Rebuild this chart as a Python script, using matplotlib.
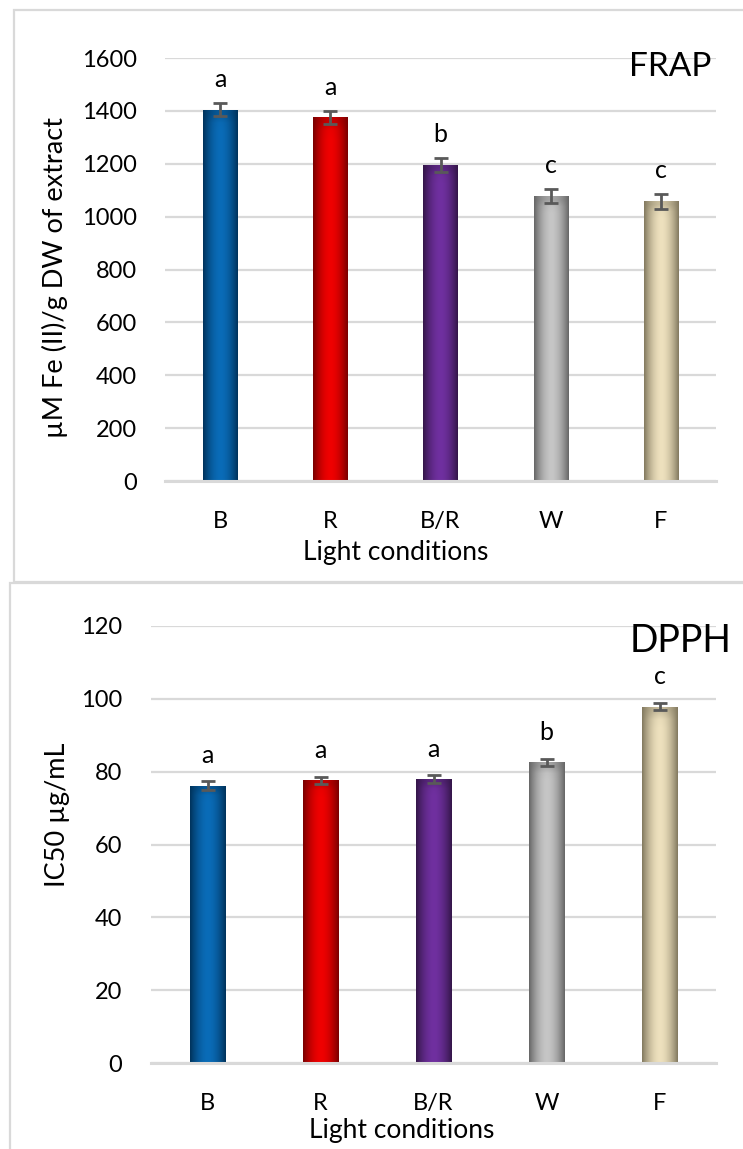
import numpy as np
import matplotlib
matplotlib.use("Agg")
import matplotlib.pyplot as plt
from matplotlib.colors import to_rgb
from matplotlib.patches import Rectangle
from matplotlib.transforms import blended_transform_factory

plt.rcParams['font.family'] = ['Lato', 'DejaVu Sans']

# data
conditions = ['B', 'R', 'B/R', 'W', 'F']
frap_vals = [1405, 1375, 1196, 1077, 1058]
frap_err = [25, 26, 26, 27, 28]
frap_letters = ['a', 'a', 'b', 'c', 'c']
dpph_vals = [76.2, 77.6, 78.0, 82.6, 97.8]
dpph_err = [1.1, 1.0, 1.0, 1.0, 1.0]
dpph_letters = ['a', 'a', 'a', 'b', 'c']

# bar shading: centre colour, edge colour
centre_cols = ['#0a6cb8', '#f00000', '#7030a0', '#c6c6c6', '#eee1be']
edge_cols = ['#00335c', '#7a0000', '#341649', '#676767', '#837a60']

GRID = '#d9d9d9'
ERR = '#595959'
W, H = 743, 1149


def shade_bars(ax, bars):
    for patch, c1, c2 in zip(bars, centre_cols, edge_cols):
        c1 = np.array(to_rgb(c1))
        c2 = np.array(to_rgb(c2))
        x0, w, h = patch.get_x(), patch.get_width(), patch.get_height()
        t = np.abs(np.linspace(-1, 1, 64)) ** 1.8
        row = c1[None, :] * (1 - t[:, None]) + c2[None, :] * t[:, None]
        img = np.repeat(row[None, :, :], 40, axis=0)
        # a bit darker at the very bottom
        v = np.linspace(1, 0, 40)
        dark = np.clip((v - 0.97) / 0.03, 0, 1)[:, None, None] * 0.35
        img = img * (1 - dark) + c2[None, None, :] * dark
        im = ax.imshow(img, extent=[x0, x0 + w, 0, h], aspect='auto',
                       origin='upper', zorder=2, interpolation='bilinear')
        im.set_clip_path(patch)
        patch.set_facecolor('none')
        patch.set_edgecolor('none')


def panel(rect, vals, errs, letters, ymax, step, ylabel, title,
          ylab_xy, title_xy, tick_base, xlab_xy, pad_y, gap):
    ax = fig.add_axes(rect)
    x = np.arange(len(conditions))
    bars = ax.bar(x, vals, width=0.31, zorder=2)
    shade_bars(ax, bars)
    ax.errorbar(x, vals, yerr=errs, fmt='none', ecolor=ERR, elinewidth=2,
                capsize=5, capthick=2, zorder=3)
    for xi, v, e, l in zip(x, vals, errs, letters):
        ax.annotate(l, (xi, v + e), xytext=(0, gap), textcoords='offset points',
                    ha='center', va='baseline', fontsize=18)
    ax.set_xlim(-0.5, len(conditions) - 0.5)
    ax.set_ylim(0, ymax)
    ax.set_yticks(np.arange(0, ymax + 1, step))
    ax.yaxis.grid(True, color=GRID, linewidth=1.6, zorder=0)
    ax.set_axisbelow(True)
    for s in ['top', 'right', 'left']:
        ax.spines[s].set_visible(False)
    ax.spines['bottom'].set_color(GRID)
    ax.spines['bottom'].set_linewidth(2.2)
    ax.spines['bottom'].set_zorder(4)
    ax.tick_params(axis='both', length=0, labelsize=17)
    ax.tick_params(axis='y', pad=pad_y)
    ax.set_xticks(x)
    ax.set_xticklabels([])
    # category labels, placed by their baseline
    trans = blended_transform_factory(ax.transData, fig.transFigure)
    for xi, c in zip(x, conditions):
        ax.text(xi, 1 - tick_base / H, c, transform=trans, ha='center',
                va='baseline', fontsize=17, clip_on=False)
    fig.text(ylab_xy[0] / W, 1 - ylab_xy[1] / H, ylabel, rotation=90,
             ha='center', va='center', fontsize=19.5)
    fig.text(xlab_xy[0] / W, 1 - xlab_xy[1] / H, 'Light conditions',
             ha='center', va='baseline', fontsize=19)
    fig.text(title_xy[0] / W, 1 - title_xy[1] / H, title[0],
             ha='center', va='baseline', fontsize=title[1])
    return ax


fig = plt.figure(figsize=(W / 100, H / 100), dpi=100)

# panel frames
fig.patches.append(Rectangle((14 / W, 1 - 582 / H), 1.0, (582 - 10) / H,
                             transform=fig.transFigure, fill=False,
                             edgecolor=GRID, linewidth=1.6))
fig.patches.append(Rectangle((9.5 / W, -0.01), 1.0, 1 - 583 / H + 0.01,
                             transform=fig.transFigure, fill=False,
                             edgecolor=GRID, linewidth=1.6))

panel([165 / W, 1 - 481 / H, 551 / W, 423 / H], frap_vals, frap_err,
      frap_letters, 1600, 200, 'µM Fe (II)/g DW of extract', ('FRAP', 24),
      (55, 277), (670, 76), 528, (396, 560), 20, 11.5)

panel([151 / W, 1 - 1063 / H, 565 / W, 437 / H], dpph_vals, dpph_err,
      dpph_letters, 120, 20, 'IC50 µg/mL', ('DPPH', 27),
      (57, 815), (681, 652), 1110, (402, 1138), 21, 13.5)

fig.savefig('out.png', dpi=100)
